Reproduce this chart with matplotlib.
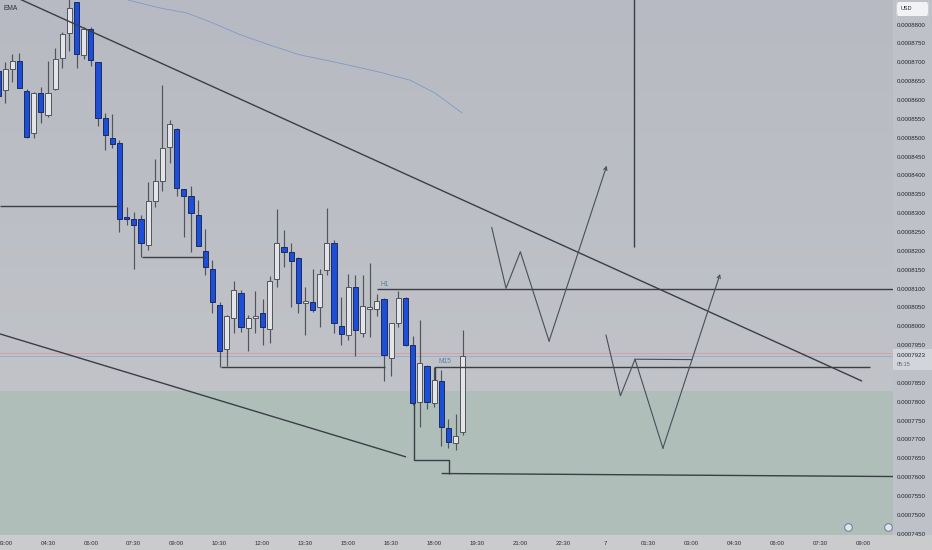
import numpy as np
import matplotlib
matplotlib.use("Agg")
import matplotlib.pyplot as plt
from matplotlib.patches import FancyBboxPatch
from matplotlib.transforms import blended_transform_factory
from matplotlib.colors import to_rgb

plt.rcParams['font.family'] = ['Liberation Sans', 'DejaVu Sans']

# ---------------- data (15-minute bars, bar 0 = 03:00) ----------------
bar_index = list(range(-1, 65))
opens = [0.0008679, 0.0008628, 0.0008683, 0.0008705, 0.0008626, 0.0008515, 0.0008619, 0.0008561,
         0.0008630, 0.0008712, 0.0008778, 0.0008860, 0.0008720, 0.0008789, 0.0008701, 0.0008553,
         0.0008500, 0.0008488, 0.0008290, 0.0008286, 0.0008285, 0.0008216, 0.0008333, 0.0008386,
         0.0008476, 0.0008524, 0.0008364, 0.0008348, 0.0008296, 0.0008202, 0.0008152, 0.0008058,
         0.0007941, 0.0008023, 0.0008090, 0.0007996, 0.0008023, 0.0008036, 0.0007993, 0.0008127,
         0.0008212, 0.0008199, 0.0008183, 0.0008064, 0.0008067, 0.0008052, 0.0008151, 0.0008223,
         0.0008003, 0.0007978, 0.0008106, 0.0007984, 0.0008046, 0.0008047, 0.0008073, 0.0007916,
         0.0008009, 0.0008077, 0.0007952, 0.0007801, 0.0007896, 0.0007799, 0.0007857, 0.0007731,
         0.0007691, 0.0007720]
highs = [0.0008691, 0.0008702, 0.0008722, 0.0008725, 0.0008630, 0.0008622, 0.0008636, 0.0008705,
         0.0008740, 0.0008781, 0.0008880, 0.0008862, 0.0008794, 0.0008794, 0.0008703, 0.0008566,
         0.0008563, 0.0008495, 0.0008317, 0.0008305, 0.0008296, 0.0008383, 0.0008446, 0.0008642,
         0.0008548, 0.0008526, 0.0008366, 0.0008373, 0.0008336, 0.0008258, 0.0008177, 0.0008065,
         0.0008030, 0.0008121, 0.0008098, 0.0008031, 0.0008095, 0.0008073, 0.0008135, 0.0008311,
         0.0008257, 0.0008221, 0.0008185, 0.0008106, 0.0008152, 0.0008152, 0.0008314, 0.0008230,
         0.0008078, 0.0008139, 0.0008137, 0.0008137, 0.0008168, 0.0008087, 0.0008075, 0.0008011,
         0.0008096, 0.0008079, 0.0007976, 0.0008018, 0.0007898, 0.0007894, 0.0007885, 0.0007756,
         0.0007769, 0.0007991]
lows = [0.0008601, 0.0008593, 0.0008650, 0.0008632, 0.0008501, 0.0008501, 0.0008541, 0.0008557,
        0.0008628, 0.0008685, 0.0008732, 0.0008685, 0.0008709, 0.0008691, 0.0008532, 0.0008469,
        0.0008473, 0.0008252, 0.0008270, 0.0008153, 0.0008186, 0.0008204, 0.0008318, 0.0008360,
        0.0008433, 0.0008347, 0.0008239, 0.0008199, 0.0008213, 0.0008137, 0.0008036, 0.0007894,
        0.0007897, 0.0007983, 0.0007985, 0.0007937, 0.0007983, 0.0007952, 0.0007956, 0.0008105,
        0.0008158, 0.0008053, 0.0008036, 0.0007978, 0.0008040, 0.0008000, 0.0008137, 0.0007984,
        0.0007952, 0.0007965, 0.0007923, 0.0007974, 0.0007974, 0.0008029, 0.0007856, 0.0007870,
        0.0007999, 0.0007950, 0.0007793, 0.0007735, 0.0007781, 0.0007788, 0.0007684, 0.0007679,
        0.0007673, 0.0007713]
closes = [0.0008612, 0.0008683, 0.0008705, 0.0008634, 0.0008504, 0.0008621, 0.0008570, 0.0008619,
          0.0008709, 0.0008776, 0.0008844, 0.0008723, 0.0008789, 0.0008707, 0.0008553, 0.0008508,
          0.0008485, 0.0008285, 0.0008285, 0.0008270, 0.0008221, 0.0008333, 0.0008386, 0.0008475,
          0.0008537, 0.0008369, 0.0008347, 0.0008301, 0.0008215, 0.0008159, 0.0008067, 0.0007937,
          0.0008029, 0.0008098, 0.0007999, 0.0008023, 0.0008029, 0.0008000, 0.0008121, 0.0008221,
          0.0008199, 0.0008175, 0.0008064, 0.0008069, 0.0008045, 0.0008140, 0.0008221, 0.0008011,
          0.0007981, 0.0008106, 0.0007991, 0.0008056, 0.0008052, 0.0008068, 0.0007925, 0.0008009,
          0.0008077, 0.0007952, 0.0007797, 0.0007905, 0.0007801, 0.0007859, 0.0007734, 0.0007694,
          0.0007710, 0.0007923]

ema_x = [17.2, 21.7, 25.4, 29.1, 32.9, 37.0, 41.2, 46.8, 52.4, 56.6, 60.1, 63.9]
ema_y = [0.0008866, 0.0008845, 0.0008832, 0.0008805, 0.0008774, 0.0008747, 0.0008721,
         0.0008699, 0.0008675, 0.0008654, 0.0008620, 0.0008567]

# drawings (bar index, price)
upper_trend_x = [-0.71, 119.85]
upper_trend_y = [0.00088925, 0.0007856]
lower_trend_x = [-0.71, 56.07]
lower_trend_y = [0.0007981, 0.0007655]
level_a_x, level_a_y = [-0.71, 15.93], [0.0008320, 0.0008320]
level_b_x, level_b_y = [19.15, 28.0], [0.0008186, 0.0008186]
level_c_x, level_c_y = [30.15, 53.13], [0.0007893, 0.0007893]
h1_x, h1_y = [52.06, 124.2], [0.0008100, 0.0008100]
m15_x, m15_y = [60.08, 60.08, 120.97], [0.0007859, 0.0007894, 0.0007894]
bracket_x = [57.15, 57.15, 62.09, 62.09]
bracket_y = [0.0007797, 0.0007647, 0.0007647, 0.0007611]
bottom_level_x, bottom_level_y = [61.06, 124.2], [0.0007611, 0.0007603]
vmarker_x, vmarker_y = [88.0, 88.0], [0.0008870, 0.0008212]
zig1_x = [68.06, 70.06, 72.06, 76.08, 84.14]
zig1_y = [0.0008263, 0.0008102, 0.0008199, 0.0007962, 0.0008427]
zig2_x = [84.04, 86.06, 88.1, 92.0, 100.0]
zig2_y = [0.0007978, 0.0007817, 0.0007914, 0.0007678, 0.0008140]
zig2_flat_x, zig2_flat_y = [88.1, 96.03], [0.0007914, 0.0007913]
zone_top = 0.0007830
prev_close = 0.0007930
last_price = 0.0007923

time_ticks = [0, 6, 12, 18, 24, 30, 36, 42, 48, 54, 60, 66, 72, 78, 84, 90, 96, 102, 108, 114, 120]
time_labels = ["03:00", "04:30", "06:00", "07:30", "09:00", "10:30", "12:00", "13:30", "15:00",
               "16:30", "18:00", "19:30", "21:00", "22:30", "7", "01:30", "03:00", "04:30",
               "06:00", "07:30", "09:00"]
price_ticks = [0.00088, 0.000875, 0.00087, 0.000865, 0.00086, 0.000855, 0.00085, 0.000845,
               0.00084, 0.000835, 0.00083, 0.000825, 0.00082, 0.000815, 0.00081, 0.000805,
               0.0008, 0.000795, 0.000785, 0.00078, 0.000775, 0.00077, 0.000765,
               0.00076, 0.000755, 0.00075, 0.000745]

# ---------------- figure ----------------
W, H = 932, 550
fig = plt.figure(figsize=(W / 100, H / 100), dpi=100)
fig.patch.set_facecolor('#c9cbcc')
ax = fig.add_axes([0, 15 / H, 893 / W, 535 / H])
ax2 = fig.add_axes([893 / W, 15 / H, 39 / W, 535 / H])

XMIN, XMAX = -0.713, 124.18
YMIN, YMAX = 0.0007448, 0.00088663
ax.set_xlim(XMIN, XMAX)
ax.set_ylim(YMIN, YMAX)

# background gradient
top_c = np.array(to_rgb('#b7bac2'))
mid_c = np.array(to_rgb('#c4c6ca'))
t = np.linspace(0, 1, 200)[:, None]
grad = (top_c * (1 - t) + mid_c * t)[:, None, :]
grad = np.repeat(grad, 2, axis=1)
ax.imshow(grad, extent=[XMIN, XMAX, YMIN, YMAX], aspect='auto', zorder=0, interpolation='bilinear')
ax.axhspan(YMIN, zone_top, color='#b0beba', zorder=1, lw=0)

# price lines
ax.axhline(prev_close, color='#d59aa5', lw=0.6, zorder=2)
ax.axhline(last_price, color='#93abd0', lw=0.6, zorder=2)

# EMA
ax.plot(ema_x, ema_y, color='#7f9bc6', lw=0.6, zorder=2)

# candles
x = np.array(bar_index)
o, h, l, c = map(np.array, (opens, highs, lows, closes))
up = c >= o
body_col = np.where(up, '#e3e4e7', '#1d4fd6')
edge_col = np.where(up, '#50545b', '#1a2b66')
ax.vlines(x, l, h, color='#50545b', lw=0.85, zorder=3)
bottom = np.minimum(o, c)
height = np.maximum(np.abs(c - o), 2.4e-7)
ax.bar(x, height, bottom=bottom, width=0.72, color=body_col, edgecolor=edge_col,
       linewidth=0.7, zorder=4)

# drawings
lk = dict(color='#3a3e45', lw=1.0, zorder=5, solid_capstyle='butt')
ax.plot(upper_trend_x, upper_trend_y, **lk)
ax.plot(lower_trend_x, lower_trend_y, **lk)
ax.plot(level_a_x, level_a_y, **lk)
ax.plot(level_b_x, level_b_y, **lk)
ax.plot(level_c_x, level_c_y, **lk)
ax.plot(h1_x, h1_y, **lk)
ax.plot(m15_x, m15_y, **lk)
ax.plot(bracket_x, bracket_y, **lk)
ax.plot(bottom_level_x, bottom_level_y, **lk)
ax.plot(vmarker_x, vmarker_y, **lk)

zk = dict(color='#46505b', lw=0.8, zorder=5)
ax.plot(zig1_x[:-1], zig1_y[:-1], **zk)
ax.plot(zig2_x[:-1], zig2_y[:-1], **zk)
ax.plot(zig2_flat_x, zig2_flat_y, **zk)
for zx, zy in ((zig1_x, zig1_y), (zig2_x, zig2_y)):
    ax.annotate('', xy=(zx[-1], zy[-1]), xytext=(zx[-2], zy[-2]),
                arrowprops=dict(arrowstyle='->', color='#46505b', lw=0.8,
                                shrinkA=0, shrinkB=0, mutation_scale=6), zorder=5)

ax.text(h1_x[0] + 0.4, h1_y[0] + 0.9e-6, 'H1', fontsize=4.8, color='#5f7f9e', zorder=6)
ax.text(m15_x[0] + 0.6, m15_y[1] + 0.9e-6, 'M15', fontsize=4.8, color='#5f7f9e', zorder=6)
ax.text(4 / 893, 1 - 8 / 535, 'EMA', transform=ax.transAxes, fontsize=4.8,
        color='#2c3038', va='center', ha='left', zorder=6)

# small icons at bottom right
for px in (848, 888):
    ax.plot(px / 893, 1 - 527 / 535, marker='o', ms=5.5, mfc='#e2e5eb', mec='#6b7a90', mew=0.7,
            transform=ax.transAxes, zorder=7, clip_on=False)

ax.set_xticks(time_ticks)
ax.set_xticklabels(time_labels)
ax.tick_params(axis='x', length=0, pad=4, labelsize=4.3, labelcolor='#2a2e39')
ax.set_yticks([])
for s in ax.spines.values():
    s.set_visible(False)

# price scale
ax2.set_facecolor('#bec1c7')
ax2.set_xlim(0, 1)
ax2.set_ylim(YMIN, YMAX)
ax2.set_xticks([])
ax2.set_yticks([])
for s in ax2.spines.values():
    s.set_visible(False)
for v in price_ticks:
    ax2.text(0.09, v, f'{v:.7f}', fontsize=4.4, va='center', ha='left', color='#24272e')
bt = blended_transform_factory(ax2.transAxes, ax2.transData)
ax2.add_patch(FancyBboxPatch((0.0, 0.0007885), 1.0, 0.0007941 - 0.0007885,
                             boxstyle='square,pad=0', transform=bt, fc='#d2d5da', ec='none',
                             zorder=3))
ax2.text(0.09, last_price, f'{last_price:.7f}', fontsize=4.4, va='center', ha='left',
         color='#24272e', transform=bt, zorder=4)
ax2.text(0.09, 0.0007901, '05:15', fontsize=4.0, va='center', ha='left',
         color='#5a5f68', transform=bt, zorder=4)
ax2.add_patch(FancyBboxPatch((0.08, 1 - 16 / 535), 0.84, 14 / 535,
                             boxstyle='round,pad=0,rounding_size=0.05', transform=ax2.transAxes,
                             fc='#f1f2f4', ec='none', zorder=3, clip_on=False))
ax2.text(0.2, 1 - 9 / 535, 'USD', fontsize=4.0, va='center', ha='left', color='#24272e',
         transform=ax2.transAxes, zorder=4)

fig.savefig('out.png', dpi=100, facecolor=fig.get_facecolor())
